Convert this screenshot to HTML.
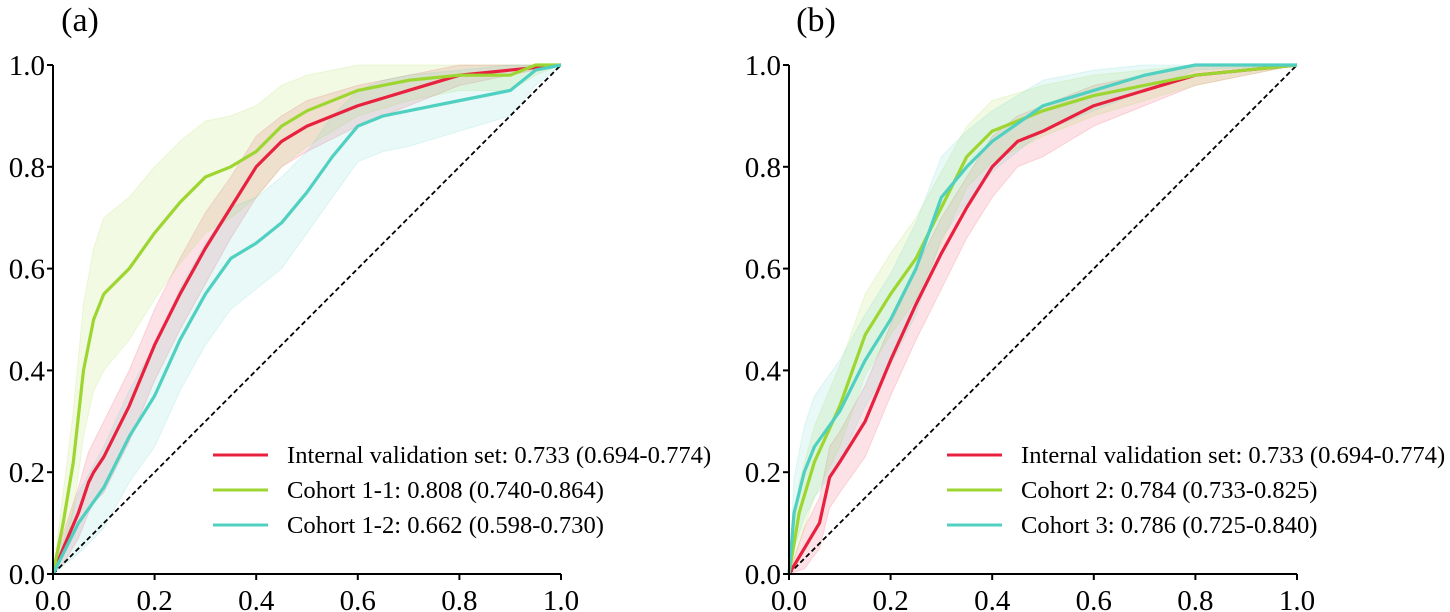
<!DOCTYPE html>
<html><head><meta charset="utf-8"><style>
body{margin:0;background:#fff}
svg{display:block;font-family:"Liberation Serif",serif}
</style></head><body>
<svg id="svg" width="1450" height="612" xmlns="http://www.w3.org/2000/svg"></svg>
<script>
// ---- Data ----
const ticks = [0, 0.2, 0.4, 0.6, 0.8, 1.0];
const tickLabels = ["0.0", "0.2", "0.4", "0.6", "0.8", "1.0"];
// Panel (a)
const aRedX = [0,0.02,0.05,0.07,0.08,0.1,0.15,0.2,0.25,0.3,0.35,0.4,0.45,0.5,0.6,0.7,0.8,0.9,1];
const aRedY = [0,0.05,0.12,0.18,0.2,0.23,0.33,0.45,0.55,0.64,0.72,0.8,0.85,0.88,0.92,0.95,0.98,0.99,1];
const aRedW = [0,0.03,0.05,0.06,0.06,0.07,0.07,0.07,0.07,0.07,0.06,0.06,0.05,0.05,0.04,0.03,0.02,0.01,0];
const aGreenX = [0,0.02,0.04,0.06,0.08,0.1,0.15,0.2,0.25,0.3,0.35,0.4,0.45,0.5,0.6,0.7,0.8,0.9,0.95,1];
const aGreenY = [0,0.1,0.22,0.4,0.5,0.55,0.6,0.67,0.73,0.78,0.8,0.83,0.88,0.91,0.95,0.97,0.98,0.98,1,1];
const aGreenW = [0,0.06,0.1,0.13,0.14,0.15,0.14,0.13,0.12,0.11,0.1,0.09,0.08,0.07,0.05,0.04,0.03,0.03,0.02,0];
const aCyanX = [0,0.05,0.1,0.15,0.2,0.25,0.3,0.35,0.4,0.45,0.5,0.55,0.6,0.65,0.7,0.8,0.9,0.95,1];
const aCyanY = [0,0.1,0.17,0.27,0.35,0.46,0.55,0.62,0.65,0.69,0.75,0.82,0.88,0.9,0.91,0.93,0.95,0.99,1];
const aCyanW = [0,0.06,0.08,0.09,0.1,0.1,0.1,0.1,0.09,0.09,0.08,0.08,0.07,0.07,0.07,0.06,0.05,0.03,0];
// Panel (b)
const bRedX = [0,0.03,0.06,0.08,0.1,0.15,0.2,0.25,0.3,0.35,0.4,0.45,0.5,0.6,0.7,0.8,0.9,1];
const bRedY = [0,0.05,0.1,0.19,0.22,0.3,0.42,0.53,0.63,0.72,0.8,0.85,0.87,0.92,0.95,0.98,0.99,1];
const bRedW = [0,0.04,0.05,0.06,0.06,0.07,0.07,0.07,0.07,0.06,0.06,0.05,0.05,0.04,0.03,0.02,0.01,0];
const bGreenX = [0,0.02,0.05,0.1,0.15,0.2,0.25,0.3,0.35,0.4,0.5,0.6,0.7,0.8,0.9,1];
const bGreenY = [0,0.12,0.22,0.33,0.47,0.55,0.62,0.72,0.82,0.87,0.91,0.94,0.96,0.98,0.99,1];
const bGreenW = [0,0.06,0.07,0.08,0.08,0.08,0.08,0.07,0.06,0.06,0.05,0.04,0.03,0.02,0.01,0];
const bCyanX = [0,0.01,0.03,0.05,0.1,0.15,0.2,0.25,0.3,0.35,0.4,0.5,0.6,0.7,0.8,1];
const bCyanY = [0,0.12,0.2,0.25,0.32,0.42,0.5,0.6,0.74,0.8,0.85,0.92,0.95,0.98,1,1];
const bCyanW = [0,0.07,0.09,0.1,0.1,0.09,0.09,0.09,0.08,0.07,0.06,0.05,0.04,0.03,0.01,0];
const aLegend = ["Internal validation set: 0.733 (0.694-0.774)","Cohort 1-1: 0.808 (0.740-0.864)","Cohort 1-2: 0.662 (0.598-0.730)"];
const bLegend = ["Internal validation set: 0.733 (0.694-0.774)","Cohort 2: 0.784 (0.733-0.825)","Cohort 3: 0.786 (0.725-0.840)"];
const colors = ["#e8213f","#9dd630","#4fd0c0"];

const NS="http://www.w3.org/2000/svg";
const svg=document.getElementById('svg');
function mk(tag,attrs,parent){const e=document.createElementNS(NS,tag);for(const k in attrs)e.setAttribute(k,attrs[k]);(parent||svg).appendChild(e);return e;}

function panel(id,x0,label,series,legend,legX){
  const y0=574,y1=65,w=508;
  const sx=v=>x0+v*w, sy=v=>y0-v*(y0-y1);
  const g=mk('g',{});
  
  
  const t=mk('text',{x:x0+27,y:31,'font-size':34,'text-anchor':'middle'},g);t.textContent=label;
  
  
  const names=['internal','c1','c2'];
  series.forEach((s,i)=>{
    const [xs,ys,ws]=s;
    let d='';
    xs.forEach((x,j)=>{d+=(j?'L':'M')+sx(x)+','+sy(Math.min(1,ys[j]+ws[j]));});
    for(let j=xs.length-1;j>=0;j--)d+='L'+sx(xs[j])+','+sy(Math.max(0,ys[j]-ws[j]));
    const b=mk('path',{d:d+'Z',fill:colors[i],'fill-opacity':0.13,stroke:colors[i],'stroke-opacity':0.15},g);
    
    
  });
  const diag=mk('line',{x1:sx(0),y1:sy(0),x2:sx(1),y2:sy(1),stroke:'#000','stroke-width':1.8,'stroke-dasharray':'5,3'},g);
  
  
  series.forEach((s,i)=>{
    const [xs,ys]=s;
    const pts=xs.map((x,j)=>sx(x)+','+sy(ys[j])).join(' ');
    const l=mk('polyline',{points:pts,fill:'none',stroke:colors[i],'stroke-width':3.2,'stroke-linejoin':'round'},g);
    
    
  });
  const ax=mk('path',{d:`M${x0},${y1}V${y0}H${x0+w}`,fill:'none',stroke:'#000','stroke-width':2},g);
  
  
  ticks.forEach((v,i)=>{
    mk('line',{x1:sx(v),y1:y0,x2:sx(v),y2:y0+6,stroke:'#000','stroke-width':2},g);
    mk('line',{x1:x0,y1:sy(v),x2:x0-6,y2:sy(v),stroke:'#000','stroke-width':2},g);
    const tx=mk('text',{x:sx(v),y:y0+36,'font-size':29,'text-anchor':'middle'},g);tx.textContent=tickLabels[i];
    
    
    const ty=mk('text',{x:x0-8,y:sy(v)+10,'font-size':29,'text-anchor':'end'},g);ty.textContent=tickLabels[i];
    
    
  });
  legend.forEach((txt,i)=>{
    const y=455+i*35;
    const le=mk('line',{x1:legX,y1:y,x2:legX+55,y2:y,stroke:colors[i],'stroke-width':3},g);
    
    
    const tt=mk('text',{x:legX+74,y:y+8,'font-size':24.6},g);tt.textContent=txt;
    
    
  });
}
panel('a',53,'(a)',[[aRedX,aRedY,aRedW],[aGreenX,aGreenY,aGreenW],[aCyanX,aCyanY,aCyanW]],aLegend,213);
panel('b',789,'(b)',[[bRedX,bRedY,bRedW],[bGreenX,bGreenY,bGreenW],[bCyanX,bCyanY,bCyanW]],bLegend,947);
</script>
</body></html>
